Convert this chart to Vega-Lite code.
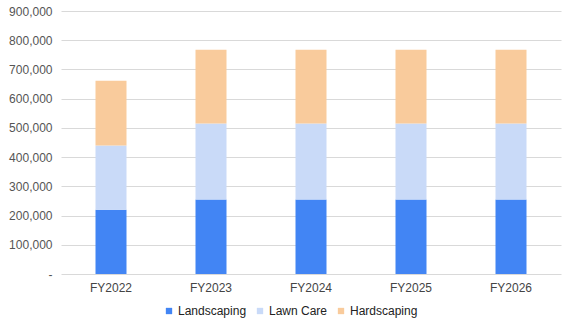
{
  "$schema": "https://vega.github.io/schema/vega-lite/v6.json",
  "autosize": "none",
  "width": 500,
  "height": 263,
  "padding": {"left": 61, "top": 11, "right": 13, "bottom": 53},
  "background": "white",
  "config": {
    "font": "Liberation Sans",
    "view": {"stroke": null}
  },
  "data": {
    "values": [
      {"year": "FY2022", "segment": "Landscaping", "i": 0, "value": 220000},
      {"year": "FY2022", "segment": "Lawn Care", "i": 1, "value": 220000},
      {"year": "FY2022", "segment": "Hardscaping", "i": 2, "value": 221000},
      {"year": "FY2023", "segment": "Landscaping", "i": 0, "value": 255000},
      {"year": "FY2023", "segment": "Lawn Care", "i": 1, "value": 260000},
      {"year": "FY2023", "segment": "Hardscaping", "i": 2, "value": 252000},
      {"year": "FY2024", "segment": "Landscaping", "i": 0, "value": 255000},
      {"year": "FY2024", "segment": "Lawn Care", "i": 1, "value": 260000},
      {"year": "FY2024", "segment": "Hardscaping", "i": 2, "value": 252000},
      {"year": "FY2025", "segment": "Landscaping", "i": 0, "value": 255000},
      {"year": "FY2025", "segment": "Lawn Care", "i": 1, "value": 260000},
      {"year": "FY2025", "segment": "Hardscaping", "i": 2, "value": 252000},
      {"year": "FY2026", "segment": "Landscaping", "i": 0, "value": 255000},
      {"year": "FY2026", "segment": "Lawn Care", "i": 1, "value": 260000},
      {"year": "FY2026", "segment": "Hardscaping", "i": 2, "value": 252000}
    ]
  },
  "mark": {"type": "bar"},
  "encoding": {
    "x": {
      "field": "year",
      "type": "nominal",
      "scale": {"paddingInner": 0.69, "paddingOuter": 0.345},
      "axis": {
        "title": null,
        "labelAngle": 0,
        "labelFontSize": 12,
        "labelColor": "#444444",
        "labelPadding": 8,
        "ticks": false,
        "domain": false
      }
    },
    "y": {
      "field": "value",
      "type": "quantitative",
      "stack": "zero",
      "scale": {"domain": [0, 900000], "nice": false},
      "axis": {
        "title": null,
        "values": [0, 100000, 200000, 300000, 400000, 500000, 600000, 700000, 800000, 900000],
        "labelExpr": "datum.value == 0 ? '-' : format(datum.value, ',')",
        "labelOverlap": false,
        "labelBound": false,
        "labelFlush": false,
        "labelFontSize": 12,
        "labelColor": "#555555",
        "labelPadding": 9,
        "ticks": false,
        "domain": false,
        "gridColor": "#d9d9d9",
        "gridWidth": 1
      }
    },
    "color": {
      "field": "segment",
      "type": "nominal",
      "scale": {
        "domain": ["Landscaping", "Lawn Care", "Hardscaping"],
        "range": ["#4285F4", "#C9DAF8", "#F9CB9C"]
      },
      "legend": {
        "title": null,
        "orient": "none",
        "legendX": 102,
        "legendY": 294,
        "direction": "horizontal",
        "symbolType": "square",
        "symbolSize": 40,
        "symbolStrokeWidth": 0,
        "labelFontSize": 12,
        "labelColor": "#222222",
        "columnPadding": 7,
        "labelOffset": 3
      }
    },
    "order": {"field": "i", "type": "quantitative", "sort": "ascending"}
  }
}
